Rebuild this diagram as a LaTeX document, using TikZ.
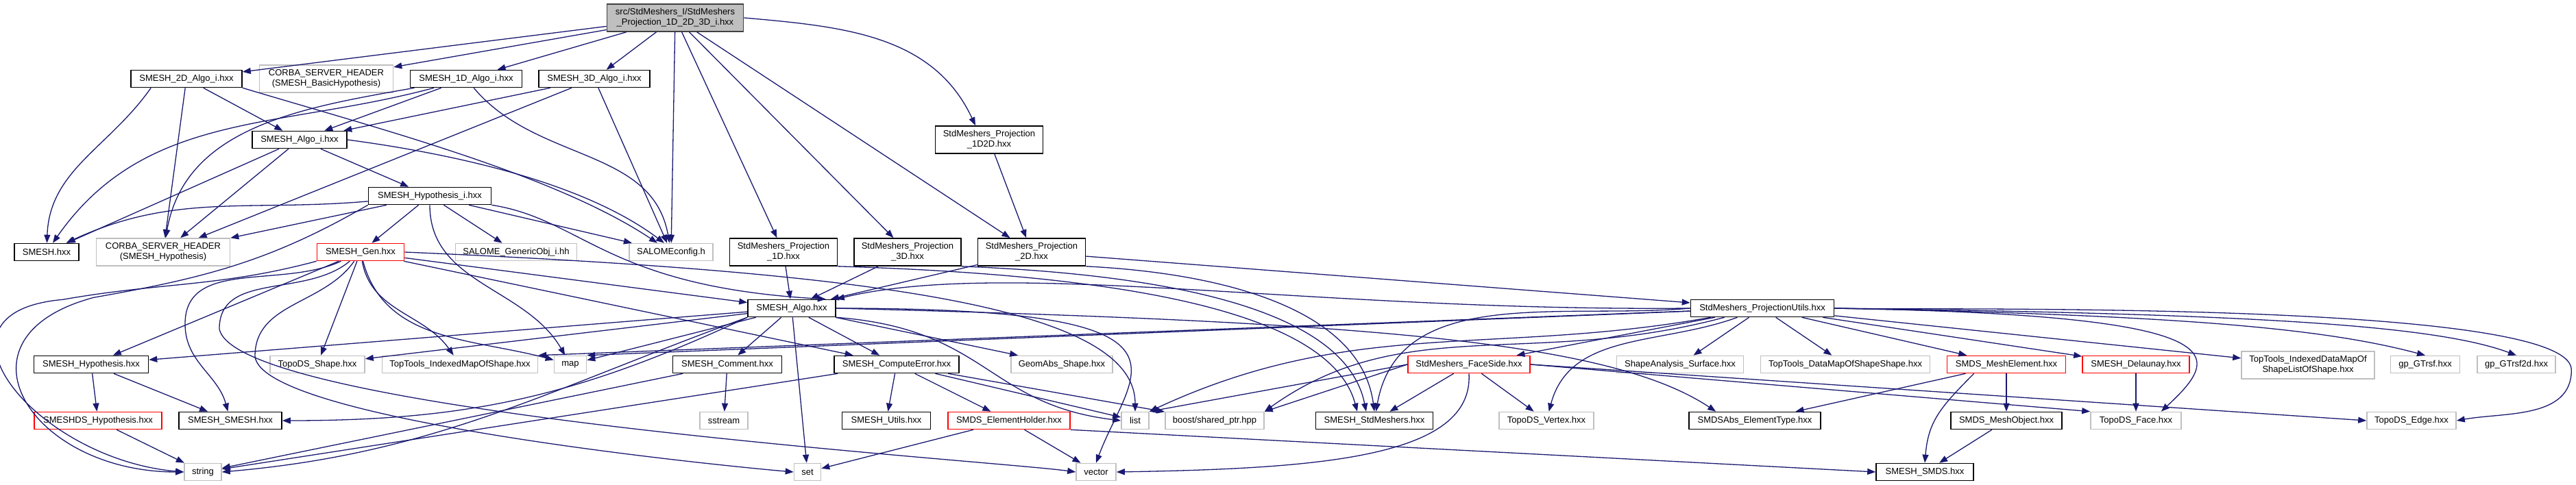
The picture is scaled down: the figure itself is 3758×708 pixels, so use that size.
\documentclass[tikz,border=0pt]{standalone}
\usepackage{fontspec}
\setmainfont{Liberation Sans}
\usetikzlibrary{arrows.meta}

\definecolor{edgeblue}{RGB}{25,25,112}
\definecolor{boxgray}{RGB}{191,191,191}
\definecolor{rootline}{RGB}{64,64,64}

\begin{document}
\begin{tikzpicture}[x=1pt,y=-1pt,
    box/.style={draw,line width=1.6pt,fill=white,inner xsep=4pt,inner ysep=2pt,minimum height=25pt,align=center,font=\fontsize{13}{15}\selectfont},
    doc/.style={box,draw=black},
    ext/.style={box,draw=boxgray},
    trunc/.style={box,draw=red},
    two/.style={minimum height=40pt},
    inc/.style={draw=edgeblue,line width=1.3pt,-{Triangle[length=12pt,width=9pt]}}]
  \useasboundingbox (0,0) rectangle (3758,708);

  \node[box,draw=rootline,fill=boxgray,two,minimum width=199pt] (root) at (985,26) {src/StdMeshers\_I/StdMeshers\\\_Projection\_1D\_2D\_3D\_i.hxx};

  \node[doc,minimum width=162pt] (a2d) at (272,115) {SMESH\_2D\_Algo\_i.hxx};
  \node[ext,two,minimum width=195pt] (cbh) at (476,115) {CORBA\_SERVER\_HEADER\\(SMESH\_BasicHypothesis)};
  \node[doc,minimum width=163pt] (a1d) at (680,115) {SMESH\_1D\_Algo\_i.hxx};
  \node[doc,minimum width=162pt] (a3d) at (867,115) {SMESH\_3D\_Algo\_i.hxx};

  \node[doc,minimum width=138pt] (algoi) at (437,204) {SMESH\_Algo\_i.hxx};
  \node[doc,two,minimum width=157pt] (p1d2d) at (1443,204) {StdMeshers\_Projection\\\_1D2D.hxx};

  \node[doc,minimum width=179pt] (hypi) at (627,286) {SMESH\_Hypothesis\_i.hxx};

  \node[doc,minimum width=94pt] (smeshh) at (68,368) {SMESH.hxx};
  \node[ext,two,minimum width=195pt] (cbhyp) at (238,368) {CORBA\_SERVER\_HEADER\\(SMESH\_Hypothesis)};
  \node[trunc,minimum width=127pt] (gen) at (526,368) {SMESH\_Gen.hxx};
  \node[ext,minimum width=177pt] (gobj) at (753,368) {SALOME\_GenericObj\_i.hh};
  \node[ext,minimum width=122pt] (scfg) at (979,368) {SALOMEconfig.h};
  \node[doc,two,minimum width=157pt] (p1d) at (1143,368) {StdMeshers\_Projection\\\_1D.hxx};
  \node[doc,two,minimum width=156pt] (p3d) at (1324,368) {StdMeshers\_Projection\\\_3D.hxx};
  \node[doc,two,minimum width=157pt] (p2d) at (1505,368) {StdMeshers\_Projection\\\_2D.hxx};

  \node[doc,minimum width=128pt] (algo) at (1155,450) {SMESH\_Algo.hxx};
  \node[doc,minimum width=209pt] (putils) at (2571,450) {StdMeshers\_ProjectionUtils.hxx};

  \node[doc,minimum width=167pt] (hyp) at (133,532) {SMESH\_Hypothesis.hxx};
  \node[ext,minimum width=138pt] (tshape) at (463,532) {TopoDS\_Shape.hxx};
  \node[ext,minimum width=227pt] (timap) at (671,532) {TopTools\_IndexedMapOfShape.hxx};
  \node[ext,minimum width=47pt] (map) at (832,532) {map};
  \node[doc,minimum width=159pt] (comment) at (1061,532) {SMESH\_Comment.hxx};
  \node[doc,minimum width=182pt] (cerr) at (1308,532) {SMESH\_ComputeError.hxx};
  \node[ext,minimum width=148pt] (geomabs) at (1549,532) {GeomAbs\_Shape.hxx};
  \node[trunc,minimum width=178pt] (faceside) at (2143,532) {StdMeshers\_FaceSide.hxx};
  \node[ext,minimum width=185pt] (sas) at (2451,532) {ShapeAnalysis\_Surface.hxx};
  \node[ext,minimum width=247pt] (tdmap) at (2692,532) {TopTools\_DataMapOfShapeShape.hxx};
  \node[trunc,minimum width=173pt] (meshel) at (2927,532) {SMDS\_MeshElement.hxx};
  \node[trunc,minimum width=156pt] (delaunay) at (3116,532) {SMESH\_Delaunay.hxx};
  \node[ext,two,minimum width=194pt] (tidmap) at (3367,533) {TopTools\_IndexedDataMapOf\\ShapeListOfShape.hxx};
  \node[ext,minimum width=101pt] (gtrsf) at (3538,532) {gp\_GTrsf.hxx};
  \node[ext,minimum width=114pt] (gtrsf2d) at (3671,532) {gp\_GTrsf2d.hxx};

  \node[trunc,minimum width=186pt] (dshyp) at (143,614) {SMESHDS\_Hypothesis.hxx};
  \node[doc,minimum width=150pt] (smeshsmesh) at (336,614) {SMESH\_SMESH.hxx};
  \node[ext,minimum width=70pt] (sstream) at (1056,614) {sstream};
  \node[doc,minimum width=129pt] (utils) at (1293,614) {SMESH\_Utils.hxx};
  \node[trunc,minimum width=178pt] (eholder) at (1472,614) {SMDS\_ElementHolder.hxx};
  \node[ext,minimum width=40pt] (list) at (1656,614) {list};
  \node[ext,minimum width=144pt] (boost) at (1772,614) {boost/shared\_ptr.hpp};
  \node[doc,minimum width=171pt] (stdm) at (2005,614) {SMESH\_StdMeshers.hxx};
  \node[ext,minimum width=138pt] (tvertex) at (2256,614) {TopoDS\_Vertex.hxx};
  \node[doc,minimum width=192pt] (elemtype) at (2560,614) {SMDSAbs\_ElementType.hxx};
  \node[doc,minimum width=162pt] (meshobj) at (2927,614) {SMDS\_MeshObject.hxx};
  \node[ext,minimum width=132pt] (tface) at (3116,614) {TopoDS\_Face.hxx};
  \node[ext,minimum width=130pt] (tedge) at (3518,614) {TopoDS\_Edge.hxx};

  \node[ext,minimum width=54pt] (string) at (296,689) {string};
  \node[ext,minimum width=39pt] (set) at (1178,689) {set};
  \node[ext,minimum width=58pt] (vector) at (1599,689) {vector};
  \node[doc,minimum width=142pt] (smds) at (2808,689) {SMESH\_SMDS.hxx};

  \draw[inc] (root) -- (a2d);
  \draw[inc] (root) -- (cbh);
  \draw[inc] (root) -- (a1d);
  \draw[inc] (root) -- (a3d);
  \draw[inc] (root) -- (scfg);
  \draw[inc] (root) -- (p1d);
  \draw[inc] (root) -- (p3d);
  \draw[inc] (root) -- (p2d);
  \draw[inc] (root.east) to[out=-5,in=115] ([xshift=-20pt]p1d2d.north);

  \draw[inc] ([xshift=30pt]a2d.south west) to[out=-125,in=88] (smeshh);
  \draw[inc] (a2d) -- (cbhyp);
  \draw[inc] (a2d) -- (algoi);
  \draw[inc] (a2d.south east) .. controls +(200,60) and +(-150,-100) .. ([xshift=-20pt]scfg.north);

  \draw[inc] ([xshift=-47pt]a1d.south) .. controls +(-227,61) and +(135,-193) .. ([xshift=9pt]smeshh.north);
  \draw[inc] (a1d) to[out=-170,in=80] (cbhyp);
  \draw[inc] (a1d) -- (algoi);
  \draw[inc] (a1d) to[out=-50,in=100] (scfg);

  \draw[inc] (a3d) -- (algoi);
  \draw[inc] (a3d) -- (cbhyp);
  \draw[inc] (a3d) -- (scfg);

  \draw[inc] (algoi) -- (smeshh);
  \draw[inc] (algoi) -- (cbhyp);
  \draw[inc] (algoi) -- (hypi);
  \draw[inc] (algoi.east) .. controls +(150,20) and +(-120,-90) .. ([xshift=-10pt]scfg.north);

  \draw[inc] (hypi) to[out=185,in=25] (smeshh);
  \draw[inc] (hypi) -- (cbhyp);
  \draw[inc] (hypi) -- (gen);
  \draw[inc] (hypi) -- (gobj);
  \draw[inc] (hypi) -- (scfg);
  \draw[inc] (hypi.south) to[out=-90,in=120] (map);
  \draw[inc] (hypi.south west) to[out=-150,in=10] ++(-400,135) to[out=195,in=180,looseness=2] (string.west);
  \draw[inc] (hypi.south east) .. controls +(134,21) and +(-320,-18) .. ([xshift=-15pt]algo.north east);

  \draw[inc] (gen) -- (hyp);
  \draw[inc] (gen.south west) to[out=-165,in=10] ++(-370,56) to[out=185,in=175,looseness=1.8] (string.west);
  \draw[inc] (gen) to[out=-155,in=90] ++(-256,105) to[out=-90,in=105] (smeshsmesh);
  \draw[inc] (gen) -- (tshape);
  \draw[inc] (gen) to[out=-80,in=125] (timap);
  \draw[inc] (gen) to[out=-75,in=165] (map);
  \draw[inc] (gen) -- (algo);
  \draw[inc] (gen) -- (cerr);
  \draw[inc] (gen.east) .. controls +(700,30) and +(0,-150) .. (list.north);
  \draw[inc] (gen) to[out=-125,in=90] ++(-154,152) .. controls +(8,94) and +(-94,-8) .. (set.west);
  \draw[inc] (gen) to[out=-140,in=90] ++(-206,112) .. controls +(22,122) and +(-123,-17) .. (vector.west);

  \draw[inc] (hyp) -- (dshyp);
  \draw[inc] (hyp) -- (smeshsmesh);
  \draw[inc] (dshyp) -- (string);

  \draw[inc] (algo) -- (hyp);
  \draw[inc] (algo) -- (tshape);
  \draw[inc] (algo) -- (map);
  \draw[inc] (algo) -- (comment);
  \draw[inc] (algo) -- (cerr);
  \draw[inc] (algo) -- (geomabs);
  \draw[inc] (algo) -- (set);
  \draw[inc] (algo.south east) .. controls +(221,17) and +(-196,-24) .. (list.west);
  \draw[inc] (algo.east) .. controls +(561,0) and +(51,-137) .. (vector.north);
  \draw[inc] (algo.south west) .. controls +(-294,107) and +(312,-27) .. (string.east);
  \draw[inc] (algo.south west) .. controls +(-247,115) and +(273,0) .. (smeshsmesh.east);
  \draw[inc] (algo.east) .. controls +(780,20) and +(-154,-102) .. ([xshift=40pt]elemtype.north west);

  \draw[inc] (comment) -- (sstream);
  \draw[inc] (comment) -- (string);
  \draw[inc] (cerr) -- (utils);
  \draw[inc] (cerr) -- (eholder);
  \draw[inc] (cerr) -- (list);
  \draw[inc] (cerr) -- (boost);
  \draw[inc] (cerr) -- (string);
  \draw[inc] (eholder) -- (set);
  \draw[inc] (eholder) -- (vector);
  \draw[inc] (eholder.south east) -- (smds.west);

  \draw[inc] (p1d2d) -- (p2d);
  \draw[inc] (p1d) -- (algo);
  \draw[inc] (p1d.south east) .. controls +(400,12) and +(-40,-150) .. ([xshift=-25pt]stdm.north);
  \draw[inc] (p3d) -- (algo);
  \draw[inc] (p3d.south east) .. controls +(300,12) and +(-30,-150) .. ([xshift=-12pt]stdm.north);
  \draw[inc] (p2d) -- (algo);
  \draw[inc] (p2d.south east) .. controls +(200,10) and +(-20,-150) .. (stdm.north);
  \draw[inc] (p2d) -- (putils);

  \draw[inc] (putils.west) .. controls +(-550,5) and +(250,-60) .. (algo.north east);
  \draw[inc] (putils) -- (map.north east);
  \draw[inc] (putils) -- (timap.north east);
  \draw[inc] ([xshift=30pt]putils.south west) .. controls +(-320,57) and +(296,-138) .. (list.north east);
  \draw[inc] ([xshift=50pt]putils.south west) .. controls +(-281,75) and +(202,-145) .. (boost.north east);
  \draw[inc] (putils.west) to[out=185,in=80] (stdm);
  \draw[inc] (putils) to[out=-160,in=75] (tvertex);
  \draw[inc] (putils) -- (faceside);
  \draw[inc] (putils) -- (sas);
  \draw[inc] (putils) -- (tdmap);
  \draw[inc] (putils) -- (meshel);
  \draw[inc] (putils) -- (delaunay);
  \draw[inc] (putils) -- (tidmap);
  \draw[inc] (putils.east) .. controls +(500,10) and +(-150,-40) .. (gtrsf.north);
  \draw[inc] (putils.east) .. controls +(600,8) and +(-121,-45) .. (gtrsf2d.north);
  \draw[inc] (putils.east) .. controls +(600,10) and +(88,-82) .. ([xshift=-30pt]tface.north east);
  \draw[inc] (putils.east) .. controls +(105,4) and +(0,-105) .. ++(1075,90) to[out=-90,in=10] (tedge.east);

  \draw[inc] (faceside) -- (stdm);
  \draw[inc] (faceside) -- (tvertex);
  \draw[inc] (faceside.west) -- (list.north east);
  \draw[inc] (faceside.west) -- (boost.north east);
  \draw[inc] (faceside.south) .. controls +(7,122) and +(300,-5) .. (vector.east);
  \draw[inc] (faceside.east) -- (tface.north west);
  \draw[inc] (faceside.east) -- (tedge.west);

  \draw[inc] (meshel) -- (elemtype);
  \draw[inc] (meshel) -- (meshobj);
  \draw[inc] ([xshift=40pt]meshel.south west) .. controls +(-50,50) and +(5,-60) .. (smds.north);
  \draw[inc] (meshobj) -- (smds);
  \draw[inc] (delaunay) -- (tface);
\end{tikzpicture}
\end{document}
